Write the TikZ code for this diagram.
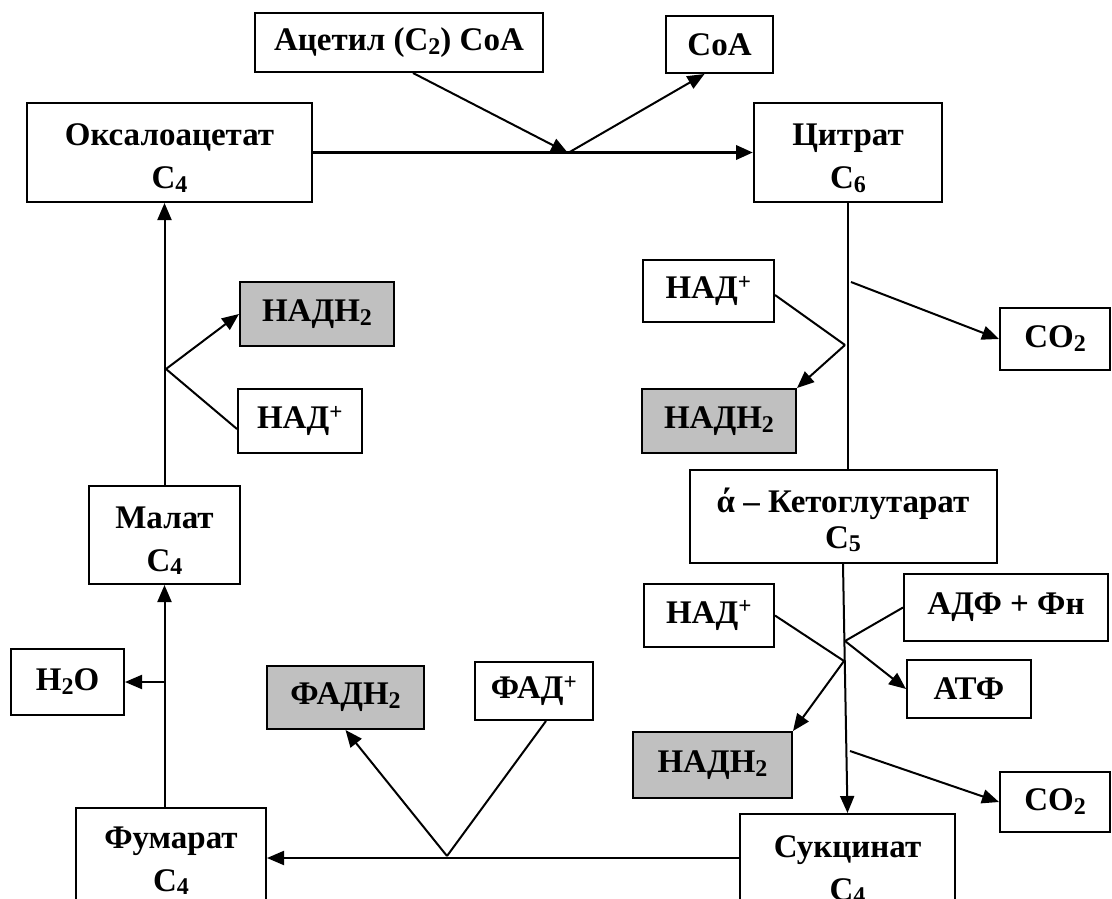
\documentclass[tikz,border=0pt]{standalone}
\usepackage{fontspec}
\setmainfont{Liberation Serif}
\usepackage{xcolor}
\usepackage{tikz}
\usetikzlibrary{arrows.meta,positioning}
\tikzset{>={Triangle[length=17pt,width=14pt]}}
\definecolor{nadgray}{HTML}{C0C0C0}
\newcommand{\sbs}[1]{\raisebox{-0.12em}{\fontsize{24}{24}\selectfont #1}}
\newcommand{\spl}{\textsuperscript{+}}

\begin{document}
\begin{tikzpicture}[x=1pt, y=-1pt,
              box/.style={draw, line width=2pt, inner sep=0pt, align=center,
                          font=\fontsize{33}{43}\selectfont\bfseries},
              twoline/.style={text height=72pt, text depth=0pt},
              redox/.style={box, fill=nadgray},
              sz/.style 2 args={minimum width=#1pt, minimum height=#2pt},
              link/.style={line width=2pt},
              mainlink/.style={line width=3.5pt},
             ]
\useasboundingbox (0,0) rectangle (1112,899);
\clip (0,0) rectangle (1112,899);

% substrates of the cycle
\node[box, sz={288}{59}] (acetyl) at (399,42.5) {Ацетил (C\sbs{2}) CoA};
\node[box, sz={107}{57}] (coa) at (719.5,44.5) {CoA};
\node[box, twoline, sz={285}{99}] (oxal) at (169.5,152.5) {Оксалоацетат\\C\sbs{4}};
\node[box, twoline, sz={188}{99}] (citr) at (848,152.5) {Цитрат\\C\sbs{6}};
\node[box, sz={307}{93}, text height=63pt, text depth=0pt,
      font=\fontsize{33}{36}\selectfont\bfseries] (keto) at (843,516.5) {ά – Кетоглутарат\\C\sbs{5}};
\node[box, twoline, sz={215}{100}] (sukc) at (847.5,864) {Сукцинат\\C\sbs{4}};
\node[box, twoline, text height=66pt, sz={190}{100}] (fumar) at (171,858) {Фумарат\\C\sbs{4}};
\node[box, twoline, sz={151}{98}] (malat) at (164.5,535) {Малат\\C\sbs{4}};

% cofactors
\node[redox, sz={154}{64}] (nadh1) at (317,314) {НАДН\sbs{2}};
\node[box, sz={124}{64}] (nadp1) at (300,421) {НАД\spl};
\node[box, sz={131}{62}] (nadp2) at (708.5,291) {НАД\spl};
\node[redox, sz={154}{64}] (nadh2) at (719,421) {НАДН\sbs{2}};
\node[box, sz={110}{62}] (co2a) at (1055,339) {CO\sbs{2}};
\node[box, sz={130}{63}] (nadp3) at (709,615.5) {НАД\spl};
\node[redox, sz={159}{66}] (nadh3) at (712.5,765) {НАДН\sbs{2}};
\node[box, sz={204}{67}] (adf) at (1006,607.5) {АДФ + Фн};
\node[box, sz={124}{58}] (atf) at (969,689) {АТФ};
\node[box, sz={110}{60}] (co2b) at (1055,802) {CO\sbs{2}};
\node[redox, sz={157}{63}] (fadh) at (345.5,697.5) {ФАДН\sbs{2}};
\node[box, sz={118}{58}] (fad) at (534,691) {ФАД\spl};
\node[box, sz={113}{66}] (h2o) at (67.5,682) {H\sbs{2}O};

% branch points
\coordinate (j1) at (568,153);
\coordinate (j2) at (845,345);
\coordinate (j3) at (844,661);
\coordinate (j4) at (845,641);
\coordinate (j5) at (447,856);
\coordinate (j6) at (165,682);
\coordinate (j7) at (166,369);
\coordinate (c1) at (851,282);
\coordinate (c2) at (850,751);

\draw[mainlink,->] (oxal.east) -- (citr.west);
\draw[link,->] ([xshift=14pt]acetyl.south) -- (j1);
\draw[link,->] (j1) -- ([xshift=-15pt]coa.south);

\draw[link] (citr.south) -- (citr.south |- keto.north);
\draw[link,->] (c1) -- (co2a.west);
\draw[link] ([yshift=-4pt]nadp2.east) -- (j2);
\draw[link,->] (j2) -- (nadh2.north east);

\draw[link,->] (keto.south) -- (sukc.north);
\draw[link] (nadp3.east) -- (j3);
\draw[link,->] (j3) -- (nadh3.north east);
\draw[link] (adf.west) -- (j4);
\draw[link,->] (j4) -- (atf.west);
\draw[link,->] (c2) -- (co2b.west);

\draw[link,->] (sukc.west |- fumar.east) -- (fumar.east);
\draw[link] ([xshift=12pt]fad.south) -- (j5);
\draw[link,->] (j5) -- (fadh.south);

\draw[link,->] (malat.south |- fumar.north) -- (malat.south);
\draw[link,->] (j6) -- (h2o.east);
\draw[link,->] (malat.north) -- (malat.north |- oxal.south);
\draw[link,->] (j7) -- (nadh1.west);
\draw[link] (j7) -- ([yshift=-8pt]nadp1.west);
\end{tikzpicture}
\end{document}
